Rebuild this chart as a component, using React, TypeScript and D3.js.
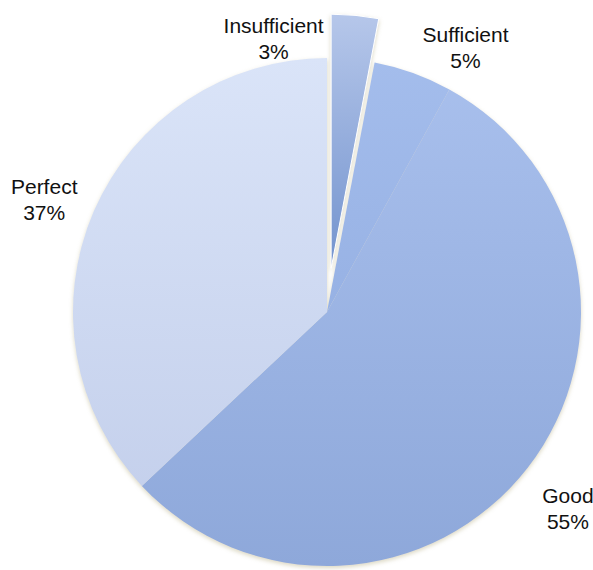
import * as d3 from "d3";
import { useEffect, useRef } from "react";

// Data
const categories = ["Insufficient", "Sufficient", "Good", "Perfect"];
const values = [3, 5, 55, 37];
const explode = [44, 0, 0, 0];

// colours: [top, bottom]
const colors: [string, string][] = [
  ["#b6c7ea", "#7393ce"],
  ["#a4bdec", "#8aa6dc"],
  ["#a9c0ed", "#8ea8da"],
  ["#dae4f8", "#c1cdea"],
];

// label anchor angle (deg from 12 o'clock) and radius, tuned to the picture
const labelAngle = [-11, 27.5, 129, 292];
const labelRadius = [280, 300, 310, 305];

const App = () => {
  const svgRef = useRef<SVGSVGElement | null>(null);

  useEffect(() => {
    document.body.style.margin = "0";
    if (!svgRef.current) return;

    const width = 593;
    const height = 570;
    const cx = 327;
    const cy = 312;
    const radius = 254;

    const svg = d3.select(svgRef.current).attr("width", width).attr("height", height);
    svg.selectAll("*").remove();

    const defs = svg.append("defs");
    const filter = defs
      .append("filter")
      .attr("id", "shadow")
      .attr("x", "-10%")
      .attr("y", "-10%")
      .attr("width", "120%")
      .attr("height", "120%");
    filter
      .append("feDropShadow")
      .attr("dx", 0)
      .attr("dy", 2)
      .attr("stdDeviation", 2)
      .attr("flood-color", "#b0a878")
      .attr("flood-opacity", 0.45);

    colors.forEach((c, i) => {
      const g = defs
        .append("linearGradient")
        .attr("id", `grad${i}`)
        .attr("gradientUnits", "userSpaceOnUse")
        .attr("x1", 0)
        .attr("y1", -radius)
        .attr("x2", 0)
        .attr("y2", i === 0 ? 0 : radius);
      g.append("stop").attr("offset", 0).attr("stop-color", c[0]);
      g.append("stop").attr("offset", 1).attr("stop-color", c[1]);
    });

    const pie = d3
      .pie<number>()
      .sort(null)
      .value((d) => d);
    const arcs = pie(values);

    const arc = d3
      .arc<d3.PieArcDatum<number>>()
      .innerRadius(0)
      .outerRadius(radius);

    const g = svg.append("g").attr("transform", `translate(${cx},${cy})`);
    const slices = g.append("g").attr("filter", "url(#shadow)");

    slices
      .selectAll("path")
      .data(arcs)
      .join("path")
      .attr("d", arc)
      .attr("fill", (_, i) => `url(#grad${i})`)
      .attr("transform", (d, i) => {
        const mid = (d.startAngle + d.endAngle) / 2;
        const off = explode[i];
        return `translate(${off * Math.sin(mid)},${-off * Math.cos(mid)})`;
      })
      .attr("stroke", (_, i) => (i === 0 ? "#ffffff" : "none"))
      .attr("stroke-width", 1);

    // Labels
    const labels = g
      .selectAll("text")
      .data(categories)
      .join("text")
      .attr("text-anchor", "middle")
      .attr("font-family", "Liberation Sans, Arial, sans-serif")
      .attr("font-size", 21)
      .attr("fill", "#111")
      .attr("transform", (_, i) => {
        const a = (labelAngle[i] * Math.PI) / 180;
        const r = labelRadius[i];
        return `translate(${r * Math.sin(a)},${-r * Math.cos(a)})`;
      });

    labels
      .append("tspan")
      .attr("x", 0)
      .attr("dy", "-0.2em")
      .text((d) => d);
    labels
      .append("tspan")
      .attr("x", 0)
      .attr("dy", "1.25em")
      .text((_, i) => `${values[i]}%`);
  }, []);

  return <svg ref={svgRef} style={{ display: "block" }}></svg>;
};

export default App;
